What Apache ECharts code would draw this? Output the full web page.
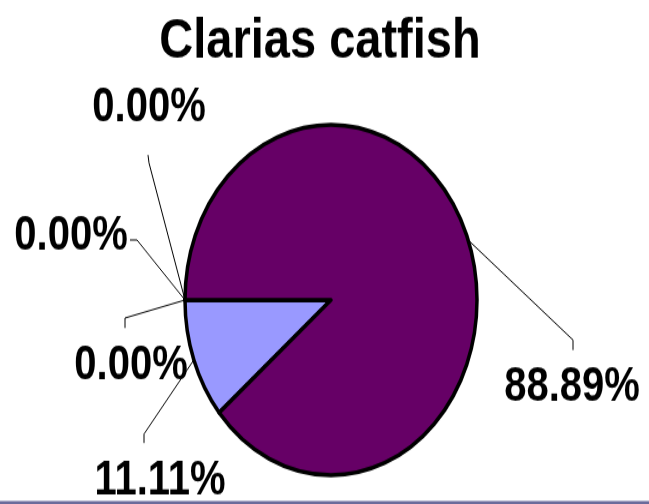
<!DOCTYPE html>
<html>
<head>
<meta charset="utf-8">
<script src="https://cdn.jsdelivr.net/npm/echarts@6/dist/echarts.min.js"></script>
<style>
  html, body { margin: 0; padding: 0; background: #fff; overflow: hidden; }
  #wrap { position: relative; width: 649px; height: 504px; overflow: hidden; }
  #chart { position: absolute; left: 0; top: 0; width: 649px; transform-origin: 0 0; }
</style>
</head>
<body>
<div id="wrap"><div id="chart"></div></div>
<script>
// Shares of the catch, in the order the slices are laid out.
const categories = ['Group 1', 'Group 2', 'Group 3', 'Group 4', 'Group 5'];
const values = [11.11, 0, 0, 0, 88.89];
const sliceColors = ['#9999FF', '#993366', '#FFFFCC', '#CCFFFF', '#660066'];
const chartTitle = 'Clarias catfish';

// The whole chart is drawn in a box that is stretched vertically,
// which makes the pie an upright ellipse and the lettering tall.
const STRETCH = 1.2;
const CX = 331, CY = 250, R = 146;
const START = 220;

const chartDiv = document.getElementById('chart');
chartDiv.style.height = (504 / STRETCH) + 'px';
chartDiv.style.transform = 'scaleY(' + STRETCH + ')';

const pieData = categories.map((name, i) => ({
  name: name,
  value: values[i],
  itemStyle: { color: sliceColors[i] }
}));

// Where each percentage label sits and how its leader line bends.
const labelSpots = [
  { at: [160, 401], bend: [144, 361.7], end: [144, 369.2] },
  { at: [131, 305], bend: [125, 265],   end: [125, 273.3] },
  { at: [71, 196.7], bend: [137, 200],  end: [130, 200] },
  { at: [149, 90],  bend: [149, 135.8], end: [148, 129.2] },
  { at: [572, 323.3], bend: [573, 283.3], end: [573, 291.7] }
];

const chart = echarts.init(chartDiv, null, { renderer: 'canvas' });
chart.setOption({
  animation: false,
  backgroundColor: '#fff',
  title: {
    text: chartTitle,
    left: 315,
    top: 7,
    textAlign: 'center',
    textStyle: {
      fontFamily: 'Liberation Sans, Arial, sans-serif',
      fontWeight: 'bold',
      fontSize: 47,
      color: '#000'
    }
  },
  graphic: [{
    type: 'rect',
    z: 100,
    shape: { x: 0, y: 417.5, width: 649, height: 2.5 },
    style: { fill: '#6b6b9b' }
  }],
  series: [{
    type: 'pie',
    silent: true,
    center: [CX, CY],
    radius: R,
    startAngle: START,
    clockwise: true,
    avoidLabelOverlap: false,
    itemStyle: { borderColor: '#000', borderWidth: 3.5 },
    emphasis: { disabled: true },
    label: {
      show: true,
      position: 'outside',
      formatter: p => p.value.toFixed(2) + '%',
      fontFamily: 'Liberation Sans, Arial, sans-serif',
      fontWeight: 'bold',
      fontSize: 40,
      color: '#000'
    },
    labelLine: {
      show: true,
      length: 10,
      length2: 10,
      lineStyle: { color: '#000', width: 1 }
    },
    labelLayout: function (params) {
      const spot = labelSpots[params.dataIndex];
      const start = (params.labelLinePoints && params.labelLinePoints[0])
        ? params.labelLinePoints[0]
        : [CX - R, CY];
      return {
        x: spot.at[0],
        y: spot.at[1],
        align: 'center',
        verticalAlign: 'middle',
        labelLinePoints: [start, spot.bend, spot.end]
      };
    },
    data: pieData
  }]
});
</script>
</body>
</html>
